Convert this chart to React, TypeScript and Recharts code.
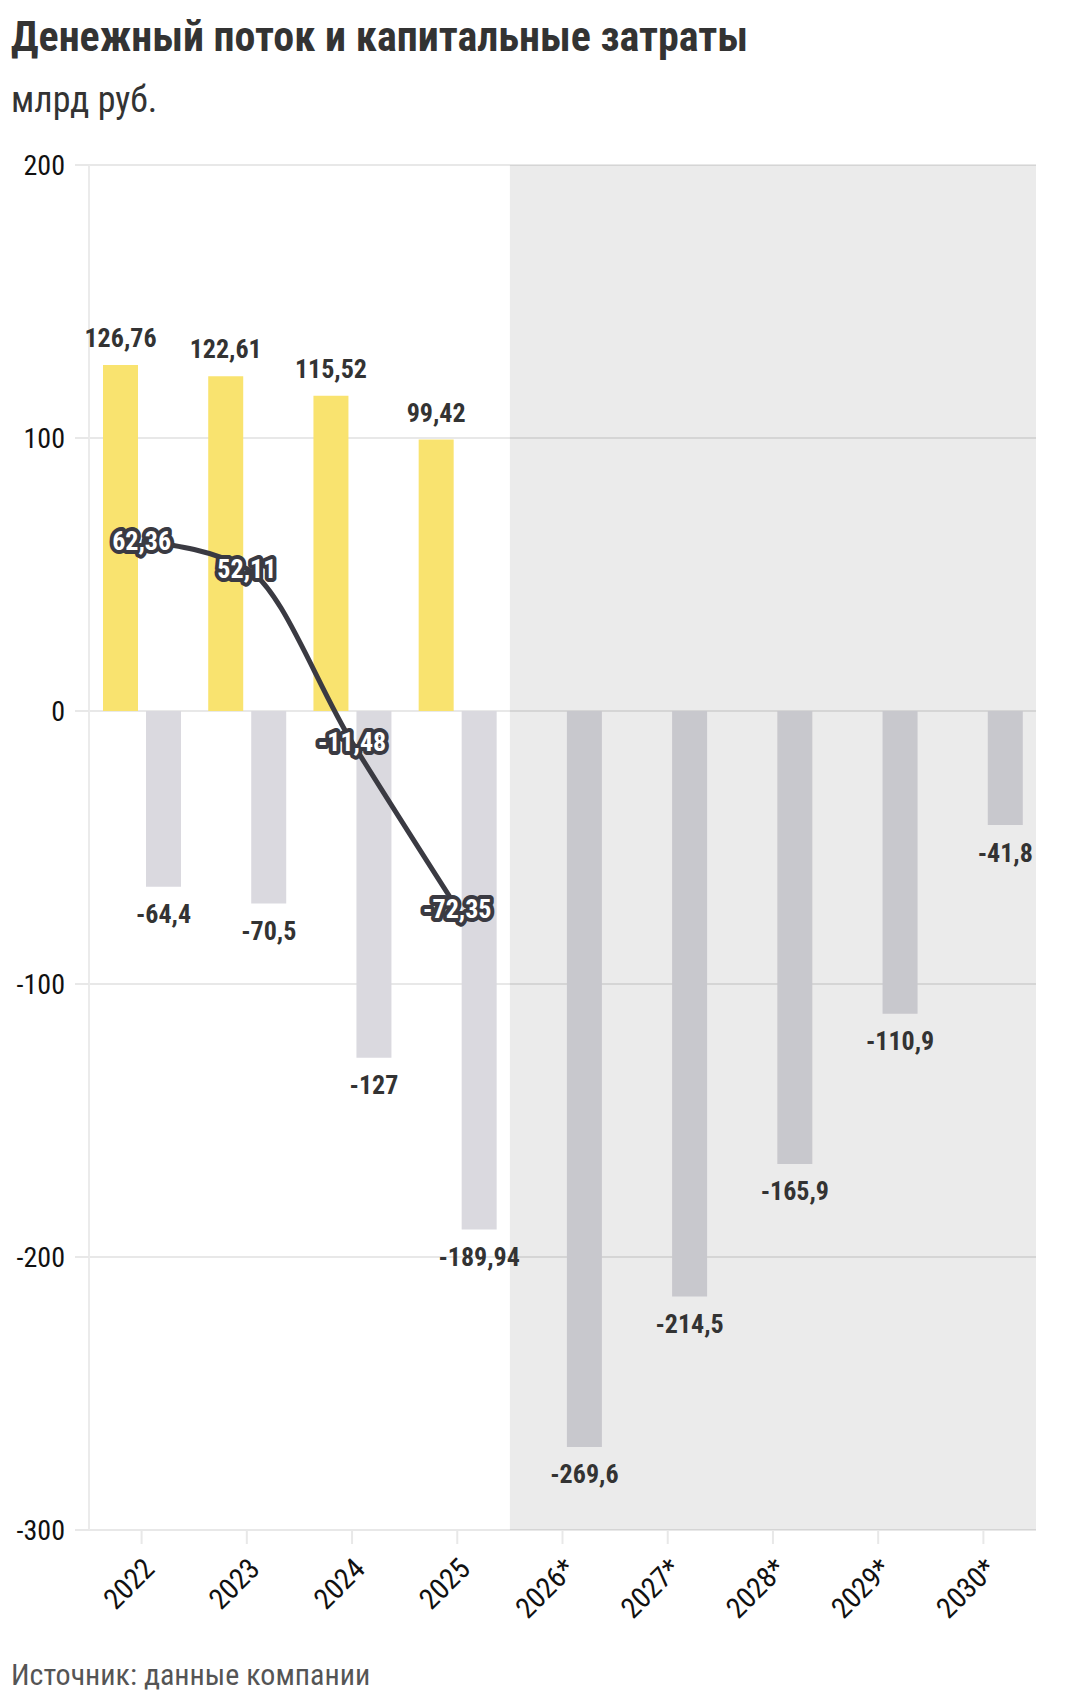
import React from "react"
import {
  ComposedChart,
  Bar,
  Line,
  XAxis,
  YAxis,
  CartesianGrid,
  ReferenceArea,
  LabelList,
} from "recharts"

const FONT = "'Roboto Condensed', 'Liberation Sans Narrow', 'Arial Narrow', 'DejaVu Sans Condensed', Roboto, sans-serif"

const years = ["2022", "2023", "2024", "2025", "2026*", "2027*", "2028*", "2029*", "2030*"]
const operatingFlow = [126.76, 122.61, 115.52, 99.42, null, null, null, null, null]
const capex = [-64.4, -70.5, -127, -189.94, -269.6, -214.5, -165.9, -110.9, -41.8]
const freeFlow = [62.36, 52.11, -11.48, -72.35, null, null, null, null, null]
const yTicks = [-300, -200, -100, 0, 100, 200]

const data = years.map((year, i) => ({
  year,
  ocf: operatingFlow[i],
  capex: capex[i],
  fcf: freeFlow[i],
}))

const fmt = (v: any) => (v == null ? "" : String(v).replace(".", ","))

// белый текст с тёмной обводкой поверх линии
function FcfLabel(props: any) {
  const { x, y, value } = props
  if (value == null) return null
  return (
    <text
      x={x}
      y={y}
      textAnchor="middle"
      dominantBaseline="central"
      fontFamily={FONT}
      fontWeight={700}
      fontSize={26}
      fill="#fff"
      stroke="#3a3a42"
      strokeWidth={8}
      strokeLinejoin="round"
      paintOrder="stroke"
    >
      {fmt(value)}
    </text>
  )
}

const barLabelStyle = { fontSize: 26, fontWeight: 700, fill: "#333", fontFamily: FONT }

export default function App() {
  return (
    <div style={{ position: "absolute", left: 0, top: 0, width: 1088, height: 1705, background: "#fff", fontFamily: FONT }}>
      <div style={{ position: "absolute", left: 0, top: 0 }}>
        <ComposedChart
          width={1088}
          height={1640}
          data={data}
          margin={{ top: 165, right: 52, left: 0, bottom: 30 }}
          barSize={35}
          barGap={8}
        >
          <CartesianGrid vertical={false} stroke="#e8e8e8" strokeWidth={2} />
          <XAxis
            dataKey="year"
            height={80}
            axisLine={false}
            tickLine={{ stroke: "#e8e8e8", strokeWidth: 2 }}
            tickSize={14}
            tickMargin={12}
            angle={-45}
            textAnchor="end"
            interval={0}
            tick={{ fontSize: 29, fill: "#111", fontFamily: FONT }}
          />
          <YAxis
            width={89}
            domain={[-300, 200]}
            ticks={yTicks}
            axisLine={{ stroke: "#ebebeb", strokeWidth: 2 }}
            tickLine={{ stroke: "#e8e8e8", strokeWidth: 2 }}
            tickSize={14}
            tickMargin={10}
            tick={{ fontSize: 28, fill: "#111", fontFamily: FONT }}
          />
          <Bar dataKey="ocf" fill="#f9e36f" isAnimationActive={false}>
            <LabelList dataKey="ocf" position="top" offset={18} formatter={fmt} style={barLabelStyle} />
          </Bar>
          <Bar dataKey="capex" fill="#dad9df" isAnimationActive={false}>
            <LabelList dataKey="capex" position="top" offset={18} formatter={fmt} style={barLabelStyle} />
          </Bar>
          <ReferenceArea
            x1="2026*"
            x2="2030*"
            y1={-300}
            y2={200}
            fill="#000"
            fillOpacity={0.078}
            stroke="none"
            zIndex={350}
          />
          <Line
            dataKey="fcf"
            type="monotone"
            stroke="#3a3a42"
            strokeWidth={5}
            dot={false}
            activeDot={false}
            isAnimationActive={false}
          >
            <LabelList dataKey="fcf" content={<FcfLabel />} />
          </Line>
        </ComposedChart>
      </div>
      <div style={{ position: "absolute", left: 11, top: 16, fontSize: 42, lineHeight: "42px", fontWeight: 700, color: "#333", whiteSpace: "nowrap" }}>
        Денежный поток и капитальные затраты
      </div>
      <div style={{ position: "absolute", left: 11, top: 82, fontSize: 36, lineHeight: "36px", color: "#333", whiteSpace: "nowrap" }}>
        млрд руб.
      </div>
      <div style={{ position: "absolute", left: 11, top: 1660, fontSize: 30, lineHeight: "30px", color: "#555", whiteSpace: "nowrap" }}>
        Источник: данные компании
      </div>
    </div>
  )
}
